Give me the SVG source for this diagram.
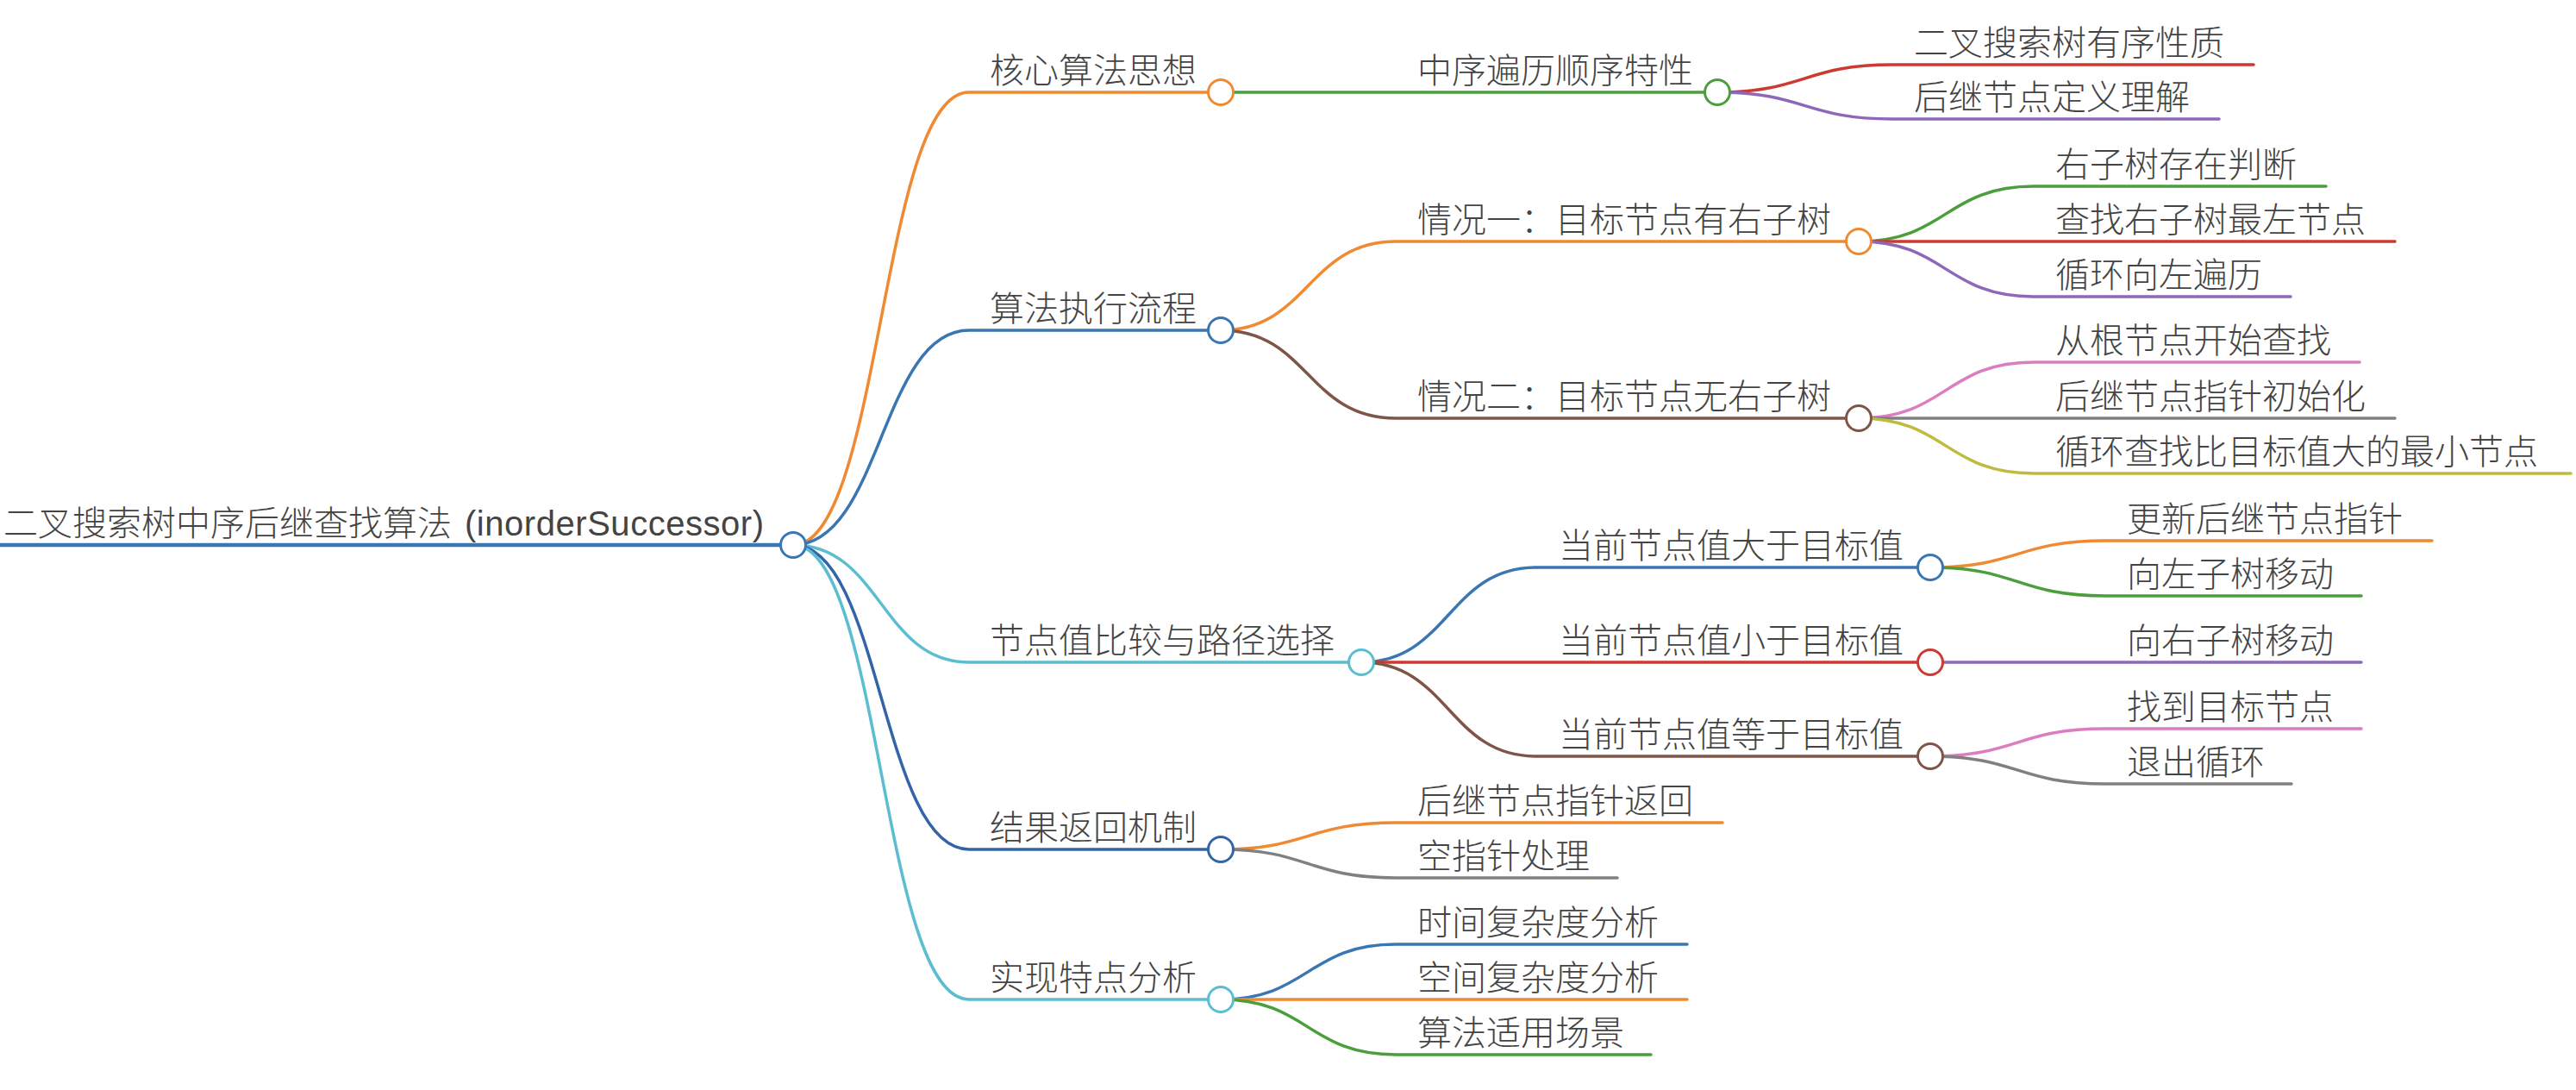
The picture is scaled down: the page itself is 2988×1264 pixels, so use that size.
<svg xmlns="http://www.w3.org/2000/svg" width="2988" height="1264" viewBox="0 0 2988 1264">
<style>
.bg{fill:#ffffff}
.lk{fill:none;stroke-width:3.5;stroke-linecap:round}
.t{font-family:"Liberation Sans","Noto Sans CJK SC Light","Noto Sans CJK SC",sans-serif;font-size:40px;font-weight:300;fill:#444444}
.c{fill:#ffffff;stroke-width:3}
.blue{stroke:#3a76b2}
.dblue{stroke:#3364a8}
.orange{stroke:#f08a32}
.green{stroke:#4a9e3c}
.red{stroke:#cc3a30}
.purple{stroke:#8d68b8}
.brown{stroke:#7f5547}
.pink{stroke:#dc7dc0}
.gray{stroke:#808080}
.olive{stroke:#bebc3c}
.cyan{stroke:#5bbdd0}
</style>
<rect class="bg" x="0" y="0" width="2988" height="1264"/>
<g id="connectors">
<path class="lk orange" d="M920 632 C1022 632 1022 107 1124 107 H1416"/>
<path class="lk blue" d="M920 632 C1022 632 1022 383 1124 383 H1416"/>
<path class="lk cyan" d="M920 632 C1022 632 1022 768 1124 768 H1579"/>
<path class="lk dblue" d="M920 632 C1022 632 1022 985 1124 985 H1416"/>
<path class="lk cyan" d="M920 632 C1022 632 1022 1159 1124 1159 H1416"/>
<path class="lk green" d="M1416 107 H1992"/>
<path class="lk orange" d="M1416 383 C1517 383 1517 280 1619 280 H2156"/>
<path class="lk brown" d="M1416 383 C1517 383 1517 485 1619 485 H2156"/>
<path class="lk blue" d="M1579 768 C1680 768 1680 658 1782 658 H2239"/>
<path class="lk red" d="M1579 768 H2239"/>
<path class="lk brown" d="M1579 768 C1680 768 1680 877 1782 877 H2239"/>
<path class="lk orange" d="M1416 985 C1517 985 1517 954 1619 954 H1998"/>
<path class="lk gray" d="M1416 985 C1517 985 1517 1018 1619 1018 H1876"/>
<path class="lk blue" d="M1416 1159 C1517 1159 1517 1095 1619 1095 H1957"/>
<path class="lk orange" d="M1416 1159 H1957"/>
<path class="lk green" d="M1416 1159 C1517 1159 1517 1223 1619 1223 H1915"/>
<path class="lk red" d="M1992 107 C2093 107 2093 75 2195 75 H2614"/>
<path class="lk purple" d="M1992 107 C2093 107 2093 138 2195 138 H2574"/>
<path class="lk green" d="M2156 280 C2257 280 2257 216 2359 216 H2698"/>
<path class="lk red" d="M2156 280 H2778"/>
<path class="lk purple" d="M2156 280 C2257 280 2257 344 2359 344 H2657"/>
<path class="lk pink" d="M2156 485 C2257 485 2257 420 2359 420 H2737"/>
<path class="lk gray" d="M2156 485 H2778"/>
<path class="lk olive" d="M2156 485 C2257 485 2257 549 2359 549 H2982"/>
<path class="lk orange" d="M2239 658 C2340 658 2340 627 2442 627 H2821"/>
<path class="lk green" d="M2239 658 C2340 658 2340 691 2442 691 H2739"/>
<path class="lk purple" d="M2239 768 H2739"/>
<path class="lk pink" d="M2239 877 C2340 877 2340 845 2442 845 H2739"/>
<path class="lk gray" d="M2239 877 C2340 877 2340 909 2442 909 H2658"/>
</g>
<g id="root">
<path class="lk blue" d="M0 632 H920" style="stroke-width:4.5"/>
<text class="t" x="4" y="621">二叉搜索树中序后继查找算法 <tspan x="539" textLength="347" lengthAdjust="spacing">(inorderSuccessor)</tspan></text>
<circle class="c blue" cx="920" cy="632" r="14.5"/>
</g>
<g id="n-core"><text class="t" x="1148" y="96">核心算法思想</text><circle class="c orange" cx="1416" cy="107" r="14.5"/></g>
<g id="n-flow"><text class="t" x="1148" y="372">算法执行流程</text><circle class="c blue" cx="1416" cy="383" r="14.5"/></g>
<g id="n-compare"><text class="t" x="1148" y="757">节点值比较与路径选择</text><circle class="c cyan" cx="1579" cy="768" r="14.5"/></g>
<g id="n-return"><text class="t" x="1148" y="974">结果返回机制</text><circle class="c dblue" cx="1416" cy="985" r="14.5"/></g>
<g id="n-impl"><text class="t" x="1148" y="1148">实现特点分析</text><circle class="c cyan" cx="1416" cy="1159" r="14.5"/></g>
<g id="n-inorder"><text class="t" x="1644" y="96">中序遍历顺序特性</text><circle class="c green" cx="1992" cy="107" r="14.5"/></g>
<g id="n-case1"><text class="t" x="1644" y="269">情况一：目标节点有右子树</text><circle class="c orange" cx="2156" cy="280" r="14.5"/></g>
<g id="n-case2"><text class="t" x="1644" y="474">情况二：目标节点无右子树</text><circle class="c brown" cx="2156" cy="485" r="14.5"/></g>
<g id="n-gt"><text class="t" x="1808" y="647">当前节点值大于目标值</text><circle class="c blue" cx="2239" cy="658" r="14.5"/></g>
<g id="n-lt"><text class="t" x="1808" y="757">当前节点值小于目标值</text><circle class="c red" cx="2239" cy="768" r="14.5"/></g>
<g id="n-eq"><text class="t" x="1808" y="866">当前节点值等于目标值</text><circle class="c brown" cx="2239" cy="877" r="14.5"/></g>
<g id="n-ret1"><text class="t" x="1644" y="943">后继节点指针返回</text></g>
<g id="n-ret2"><text class="t" x="1644" y="1007">空指针处理</text></g>
<g id="n-impl1"><text class="t" x="1644" y="1084">时间复杂度分析</text></g>
<g id="n-impl2"><text class="t" x="1644" y="1148">空间复杂度分析</text></g>
<g id="n-impl3"><text class="t" x="1644" y="1212">算法适用场景</text></g>
<g id="n-bst"><text class="t" x="2220" y="64">二叉搜索树有序性质</text></g>
<g id="n-def"><text class="t" x="2220" y="127">后继节点定义理解</text></g>
<g id="n-c1a"><text class="t" x="2384" y="205">右子树存在判断</text></g>
<g id="n-c1b"><text class="t" x="2384" y="269">查找右子树最左节点</text></g>
<g id="n-c1c"><text class="t" x="2384" y="333">循环向左遍历</text></g>
<g id="n-c2a"><text class="t" x="2384" y="409">从根节点开始查找</text></g>
<g id="n-c2b"><text class="t" x="2384" y="474">后继节点指针初始化</text></g>
<g id="n-c2c"><text class="t" x="2384" y="538">循环查找比目标值大的最小节点</text></g>
<g id="n-gt1"><text class="t" x="2467" y="616">更新后继节点指针</text></g>
<g id="n-gt2"><text class="t" x="2467" y="680">向左子树移动</text></g>
<g id="n-lt1"><text class="t" x="2467" y="757">向右子树移动</text></g>
<g id="n-eq1"><text class="t" x="2467" y="834">找到目标节点</text></g>
<g id="n-eq2"><text class="t" x="2467" y="898">退出循环</text></g>
</svg>
